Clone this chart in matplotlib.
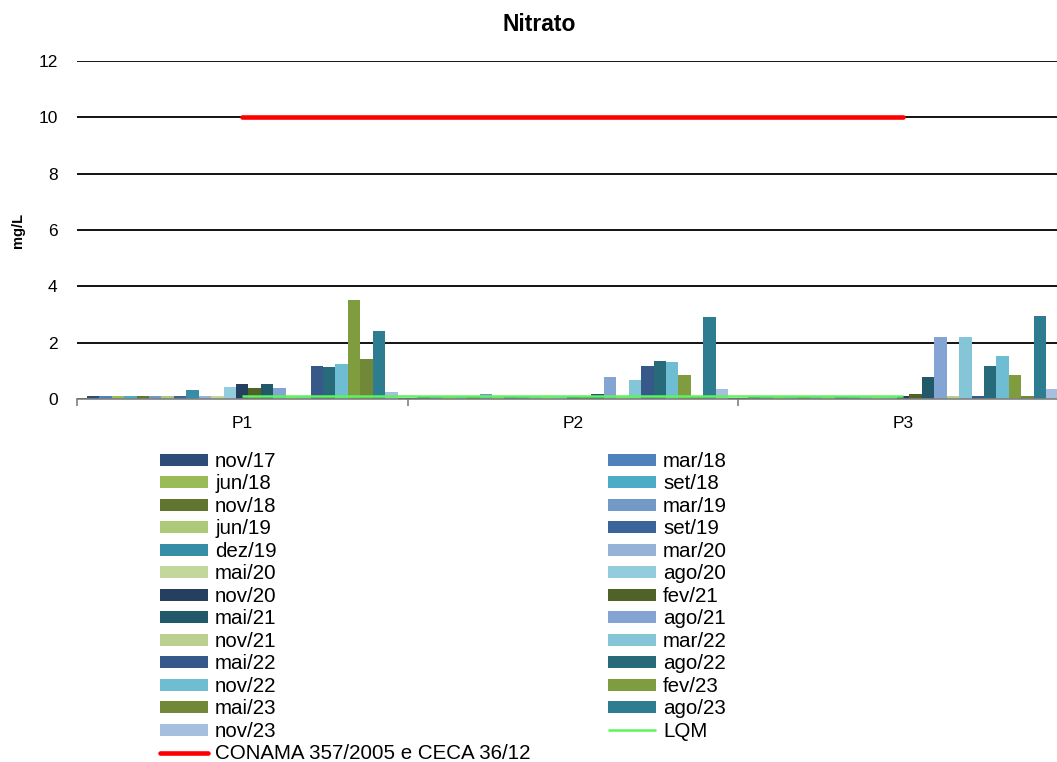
import matplotlib
matplotlib.use('Agg')
import matplotlib.pyplot as plt
import numpy as np

plt.rcParams['font.family'] = ['Liberation Sans', 'DejaVu Sans']

points = ['P1', 'P2', 'P3']
campaigns = ['nov/17', 'mar/18', 'jun/18', 'set/18', 'nov/18', 'mar/19', 'jun/19',
             'set/19', 'dez/19', 'mar/20', 'mai/20', 'ago/20', 'nov/20', 'fev/21',
             'mai/21', 'ago/21', 'nov/21', 'mar/22', 'mai/22', 'ago/22', 'nov/22',
             'fev/23', 'mai/23', 'ago/23', 'nov/23']
colors = ['#2C4D75', '#4F81BD', '#9BBB59', '#4BACC6', '#5F7530', '#7399C6', '#AFC97A',
          '#3B659A', '#368DA6', '#95B3D7', '#C3D69B', '#93CDDD', '#253F5F', '#4F6228',
          '#215968', '#84A5D3', '#BBD08F', '#84C6D8', '#37598A', '#276A7A', '#6EBDD2',
          '#7F9D3F', '#718839', '#2E7C90', '#A7BFDE']

p1 = [0.1, 0.1, 0.1, 0.1, 0.1, 0.1, 0.1, 0.1, 0.32, 0.1, 0.1, 0.44, 0.53, 0.38,
      0.53, 0.39, 0.1, 0.1, 1.17, 1.12, 1.23, 3.51, 1.42, 2.41, 0.25]
p2 = [0.1, 0.1, 0.1, 0.1, 0.1, 0.19, 0.1, 0.1, 0.1, 0.1, 0.1, 0.1, 0.1, 0.1,
      0.18, 0.79, 0.1, 0.69, 1.17, 1.34, 1.30, 0.85, 0.1, 2.91, 0.36]
p3 = [0.1, 0.1, 0.1, 0.1, 0.1, 0.1, 0.1, 0.1, 0.1, 0.1, 0.1, 0.1, 0.1, 0.18,
      0.77, 2.2, 0.1, 2.2, 0.1, 1.16, 1.51, 0.84, 0.1, 2.93, 0.36]
lqm = [0.1, 0.1, 0.1]
conama = [10, 10, 10]

title = 'Nitrato'
ylabel = 'mg/L'
lqm_label = 'LQM'
conama_label = 'CONAMA 357/2005 e CECA 36/12'

W, H = 1057, 762
fig = plt.figure(figsize=(W / 100, H / 100), dpi=100)
ax = fig.add_axes([77 / W, (H - 399) / H, 991.5 / W, 338 / H])

x = np.arange(len(points))
data = np.array([p1, p2, p3]).T
n = len(campaigns)
w = 0.0376
handles = []
for i, (name, col) in enumerate(zip(campaigns, colors)):
    b = ax.bar(x + (i - (n - 1) / 2) * w, data[i], w, color=col, label=name,
               zorder=2, linewidth=0)
    handles.append(b)

h_lqm, = ax.plot(x, lqm, color='#5FF25F', lw=1.8, zorder=4, label=lqm_label,
                 solid_capstyle='butt')
h_con, = ax.plot(x, conama, color='#FF0000', lw=3.3, zorder=4, label=conama_label,
                 solid_capstyle='round')
handles += [h_lqm, h_con]

ax.set_xlim(-0.5, 2.5)
ax.set_ylim(0, 12)
ax.set_yticks(np.arange(0, 13, 2))
ax.grid(axis='y', color='black', lw=1.3)
ax.set_axisbelow(True)
for s in ['left', 'right', 'top']:
    ax.spines[s].set_visible(False)
ax.spines['bottom'].set_color('#808080')
ax.spines['bottom'].set_linewidth(1.2)
ax.spines['bottom'].set_zorder(3)

ax.set_xticks(x, points)
ax.set_xticks(np.arange(-0.5, 3, 1), minor=True)
ax.tick_params(axis='x', which='major', length=0, pad=12.5, labelsize=12.5)
ax.tick_params(axis='x', which='minor', length=5, color='#808080', width=1.2, direction='out')
ax.tick_params(axis='y', length=0, pad=14, labelsize=12.5)

ax.set_ylabel(ylabel, fontsize=10.5, fontweight='bold')
ax.yaxis.set_label_coords(-0.052, 0.5)

fig.text(538.7 / W, 1 - 24.5 / H, title, ha='center', va='center',
         fontsize=16.5, fontweight='bold')

ordered = handles[0::2] + handles[1::2]
labels = [h.get_label() for h in ordered]
fig.legend(ordered, labels, ncol=2, loc='upper left',
           bbox_to_anchor=(160 / W, 1 - 452 / H), bbox_transform=fig.transFigure,
           frameon=False, fontsize=14.8, borderpad=0, borderaxespad=0,
           handlelength=2.35, handleheight=0.53, handletextpad=0.33,
           columnspacing=3.76, labelspacing=0.17)

fig.savefig('out.png', dpi=100)
